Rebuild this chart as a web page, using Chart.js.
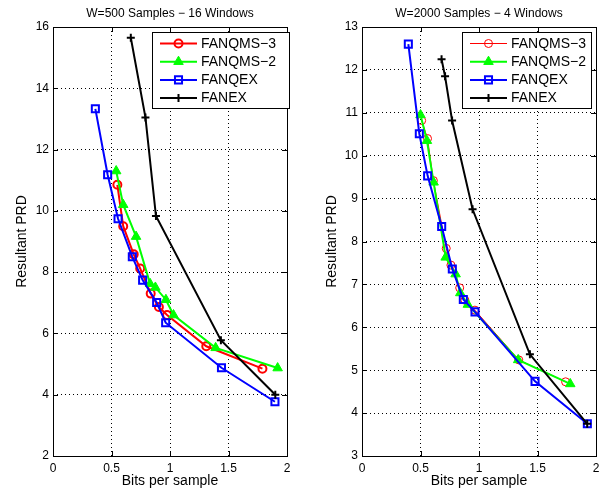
<!DOCTYPE html>
<html>
<head>
<meta charset="utf-8">
<script src="https://cdn.jsdelivr.net/npm/chart.js@4.4.1/dist/chart.umd.min.js"></script>
<style>
  html, body { margin: 0; padding: 0; background: #fff; }
  #wrap { position: relative; width: 605px; height: 493px; overflow: hidden; }
  canvas { position: absolute; top: 0; }
  #left { left: 0; }
  #right { left: 302px; }
</style>
</head>
<body>
<div id="wrap">
  <canvas id="left" width="302" height="493"></canvas>
  <canvas id="right" width="303" height="493"></canvas>
</div>
<script>
  // ---------- datos: W=500 (16 ventanas) ----------
  const w500Title = "W=500 Samples \u2212 16 Windows";
  const w500XTicks = [0, 0.5, 1, 1.5, 2];
  const w500YTicks = [2, 4, 6, 8, 10, 12, 14, 16];

  const w500Qms3Bits = [0.55, 0.60, 0.69, 0.745, 0.835, 0.905, 0.975, 1.31, 1.79];
  const w500Qms3Prd  = [10.85, 9.50, 8.58, 8.12, 7.30, 6.86, 6.60, 5.58, 4.85];

  const w500Qms2Bits = [0.54, 0.60, 0.71, 0.83, 0.875, 0.965, 1.03, 1.39, 1.92];
  const w500Qms2Prd  = [11.30, 10.20, 9.16, 7.62, 7.50, 7.10, 6.60, 5.53, 4.87];

  const w500QexBits = [0.362, 0.467, 0.556, 0.678, 0.766, 0.886, 0.963, 1.44, 1.897];
  const w500QexPrd  = [13.33, 11.18, 9.74, 8.50, 7.74, 7.01, 6.35, 4.88, 3.77];

  const w500ExBits = [0.665, 0.79, 0.88, 1.435, 1.90];
  const w500ExPrd  = [15.65, 13.05, 9.83, 5.78, 4.00];

  // ---------- datos: W=2000 (4 ventanas) ----------
  const w2000Title = "W=2000 Samples \u2212 4 Windows";
  const w2000XTicks = [0, 0.5, 1, 1.5, 2];
  const w2000YTicks = [3, 4, 5, 6, 7, 8, 9, 10, 11, 12, 13];

  const w2000Qms3Bits = [0.51, 0.56, 0.61, 0.72, 0.76, 0.835, 0.88, 0.965, 1.34, 1.74];
  const w2000Qms3Prd  = [10.82, 10.40, 9.42, 7.84, 7.45, 6.92, 6.63, 6.40, 5.24, 4.73];

  const w2000Qms2Bits = [0.50, 0.555, 0.612, 0.715, 0.80, 0.84, 0.905, 1.335, 1.78];
  const w2000Qms2Prd  = [10.95, 10.35, 9.38, 7.63, 7.24, 6.80, 6.53, 5.24, 4.68];

  const w2000QexBits = [0.396, 0.49, 0.561, 0.681, 0.772, 0.866, 0.966, 1.479, 1.926];
  const w2000QexPrd  = [12.60, 10.51, 9.53, 8.35, 7.36, 6.65, 6.36, 4.74, 3.75];

  const w2000ExBits = [0.68, 0.71, 0.77, 0.945, 1.435, 1.925];
  const w2000ExPrd  = [12.25, 11.85, 10.82, 8.75, 5.37, 3.75];

  const seriesNames = ["FANQMS\u22123", "FANQMS\u22122", "FANQEX", "FANEX"];

  Chart.defaults.font.family = "'Liberation Sans', Arial, Helvetica, sans-serif";
  Chart.defaults.color = "#000";

  function zip(xs, ys) {
    return xs.map((x, i) => ({ x: x, y: ys[i] }));
  }

  // Marco negro con marcas hacia dentro en los cuatro lados + leyenda
  const framePlugin = {
    id: "frame",
    afterDatasetsDraw(chart) {
      const { ctx, chartArea: a, scales } = chart;
      const t = 5;
      ctx.save();
      ctx.strokeStyle = "#000";
      ctx.lineWidth = 1;
      ctx.beginPath();
      scales.x.ticks.forEach(tk => {
        const px = Math.round(scales.x.getPixelForValue(tk.value)) + 0.5;
        ctx.moveTo(px, a.bottom); ctx.lineTo(px, a.bottom - t);
        ctx.moveTo(px, a.top); ctx.lineTo(px, a.top + t);
      });
      scales.y.ticks.forEach(tk => {
        const py = Math.round(scales.y.getPixelForValue(tk.value)) + 0.5;
        ctx.moveTo(a.left, py); ctx.lineTo(a.left + t, py);
        ctx.moveTo(a.right, py); ctx.lineTo(a.right - t, py);
      });
      ctx.stroke();
      ctx.strokeRect(Math.round(a.left) + 0.5, Math.round(a.top) + 0.5,
        Math.round(a.width), Math.round(a.height));
      ctx.restore();
    },
    afterDraw(chart, args, opts) {
      const box = opts.box;
      if (!box) return;
      const ctx = chart.ctx;
      ctx.save();
      ctx.fillStyle = "#fff";
      ctx.strokeStyle = "#000";
      ctx.lineWidth = 1;
      ctx.fillRect(box.x, box.y, box.w, box.h);
      ctx.strokeRect(box.x + 0.5, box.y + 0.5, box.w, box.h);
      ctx.font = "14px 'Liberation Sans', Arial, sans-serif";
      ctx.textBaseline = "middle";
      chart.data.datasets.forEach((ds, i) => {
        const yy = box.y + 11.5 + i * 18.2;
        const x0 = box.x + 8, x1 = box.x + 45;
        ctx.strokeStyle = ds.borderColor;
        ctx.lineWidth = ds.borderWidth;
        ctx.beginPath();
        ctx.moveTo(x0, yy); ctx.lineTo(x1, yy);
        ctx.stroke();
        ctx.fillStyle = ds.pointBackgroundColor;
        ctx.lineWidth = ds.pointBorderWidth;
        Chart.helpers.drawPoint(ctx, {
          pointStyle: ds.pointStyle, radius: ds.pointRadius,
          borderWidth: ds.pointBorderWidth, rotation: 0
        }, (x0 + x1) / 2, yy);
        ctx.fillStyle = "#000";
        ctx.fillText(ds.label, box.x + 49, yy + 0.5);
      });
      ctx.restore();
    }
  };

  function makeSets(sets, redWidth) {
    return [
      { label: seriesNames[0], data: sets[0], borderColor: "#ff0000", borderWidth: redWidth,
        pointStyle: "circle", pointRadius: 4, pointBorderWidth: redWidth,
        pointBackgroundColor: "rgba(0,0,0,0)", pointBorderColor: "#ff0000", order: 4 },
      { label: seriesNames[1], data: sets[1], borderColor: "#00ff00", borderWidth: 2,
        pointStyle: "triangle", pointRadius: 5.5, pointBorderWidth: 1,
        pointBackgroundColor: "#00ff00", pointBorderColor: "#00ff00", order: 3 },
      { label: seriesNames[2], data: sets[2], borderColor: "#0000ff", borderWidth: 2,
        pointStyle: "rect", pointRadius: 5, pointBorderWidth: 2,
        pointBackgroundColor: "rgba(0,0,0,0)", pointBorderColor: "#0000ff", order: 2 },
      { label: seriesNames[3], data: sets[3], borderColor: "#000000", borderWidth: 2,
        pointStyle: "cross", pointRadius: 4, pointBorderWidth: 2,
        pointBackgroundColor: "#000", pointBorderColor: "#000000", order: 1 }
    ];
  }

  function makeChart(id, opt) {
    return new Chart(document.getElementById(id), {
      type: "scatter",
      data: { datasets: makeSets(opt.sets, opt.redWidth) },
      options: {
        responsive: false,
        animation: false,
        showLine: true,
        elements: { line: { tension: 0 } },
        layout: { padding: { left: 0, right: opt.padRight, top: 0, bottom: 0 } },
        scales: {
          x: {
            type: "linear",
            min: opt.xTicks[0], max: opt.xTicks[opt.xTicks.length - 1],
            afterBuildTicks: s => { s.ticks = opt.xTicks.map(v => ({ value: v })); },
            afterFit: s => { s.height = 37; },
            grid: { color: "#000", lineWidth: 1, drawTicks: false },
            border: { display: false, dash: [1, 3] },
            ticks: { padding: 5, font: { size: 12 }, callback: v => String(v) },
            title: { display: true, text: "Bits per sample", font: { size: 14 },
              padding: { top: 0, bottom: 3.6 } }
          },
          y: {
            type: "linear",
            min: opt.yTicks[0], max: opt.yTicks[opt.yTicks.length - 1],
            afterBuildTicks: s => { s.ticks = opt.yTicks.map(v => ({ value: v })); },
            afterFit: s => { s.width = opt.yWidth; },
            grid: { color: "#000", lineWidth: 1, drawTicks: false },
            border: { display: false, dash: [1, 3] },
            ticks: { padding: 4, font: { size: 12 }, callback: v => String(v) },
            title: { display: true, text: "Resultant PRD", font: { size: 14 },
              padding: { top: opt.yTitlePad, bottom: 0 } }
          }
        },
        plugins: {
          legend: { display: false },
          tooltip: { enabled: false },
          title: {
            display: true, text: opt.title, fullSize: false,
            font: { size: 12, weight: "normal" }, color: "#000",
            padding: { top: 6, bottom: 6.6 }
          },
          frame: { box: opt.legendBox }
        }
      },
      plugins: [framePlugin]
    });
  }

  makeChart("left", {
    title: w500Title, xTicks: w500XTicks, yTicks: w500YTicks,
    sets: [zip(w500Qms3Bits, w500Qms3Prd), zip(w500Qms2Bits, w500Qms2Prd),
           zip(w500QexBits, w500QexPrd), zip(w500ExBits, w500ExPrd)],
    redWidth: 2, padRight: 15, yWidth: 53, yTitlePad: 14,
    legendBox: { x: 152, y: 32, w: 137, h: 76 }
  });

  makeChart("right", {
    title: w2000Title, xTicks: w2000XTicks, yTicks: w2000YTicks,
    sets: [zip(w2000Qms3Bits, w2000Qms3Prd), zip(w2000Qms2Bits, w2000Qms2Prd),
           zip(w2000QexBits, w2000QexPrd), zip(w2000ExBits, w2000ExPrd)],
    redWidth: 1, padRight: 9, yWidth: 60, yTitlePad: 21.6,
    legendBox: { x: 160, y: 32, w: 129, h: 76 }
  });
</script>
</body>
</html>
